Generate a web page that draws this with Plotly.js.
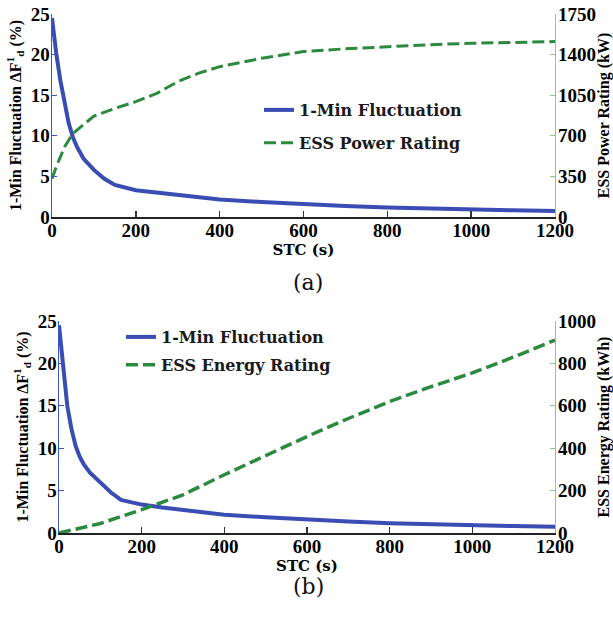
<!DOCTYPE html>
<html>
<head>
<meta charset="utf-8">
<script src="https://cdn.plot.ly/plotly-3.0.1.min.js"></script>
<style>html,body{margin:0;padding:0;background:#fff;}#chart{width:613px;height:621px;}</style>
</head>
<body>
<div id="chart"></div>
<script>
// ---- data ----
var stcA = [0,5,10,20,30,40,50,60,75,100,125,150,200,250,300,350,400,500,600,700,800,900,1000,1100,1200];
var fluctA = [24.5,22.3,20.2,16.8,13.8,11.5,9.8,8.6,7.2,5.8,4.7,3.95,3.3,3.0,2.7,2.4,2.15,1.85,1.57,1.35,1.16,1.02,0.9,0.82,0.74];
var stcPower = [0,5,10,20,30,50,75,100,150,200,250,300,350,400,500,600,700,800,900,1000,1100,1200];
var powerKW = [330,390,432,518,605,720,792,870,936,994,1066,1167,1240,1296,1368,1426,1450,1470,1485,1498,1506,1512];

var stcB = [0,5,10,20,30,40,50,60,75,100,125,150,200,250,300,350,400,500,600,700,800,900,1000,1100,1200];
var fluctB = [24.5,22.0,19.5,15.0,12.3,10.3,9.0,8.1,7.1,6.0,4.8,3.9,3.35,3.0,2.7,2.4,2.15,1.85,1.57,1.35,1.16,1.02,0.9,0.82,0.74];
var stcEnergy = [0,100,200,300,400,500,600,700,800,900,1000,1100,1200];
var energyKWh = [0,45,110,180,275,365,455,540,620,690,755,830,910];

var xTicks = [0,200,400,600,800,1000,1200];
var leftTicks = [0,5,10,15,20,25];
var powerTicks = [0,350,700,1050,1400,1750];
var energyTicks = [0,200,400,600,800,1000];

var names = {fluct:'1-Min Fluctuation', power:'ESS Power Rating', energy:'ESS Energy Rating'};
// --------------------------------------

var BLUE = '#3a4db4', GREEN = '#2b8a3e', AXBLUE = '#3d55c8', AXGREEN = '#8cc98c';
var tickFont = {family:'Liberation Serif, Times New Roman, serif', size:19, color:'#000'};
var titleFont = {family:'Liberation Serif, Times New Roman, serif', size:16, color:'#000'};
var xTitleFont = {family:'DejaVu Serif, serif', size:15, color:'#000'};
var legFont = {family:'DejaVu Serif, serif', size:16, color:'#1a1a1a'};

function b(s){ return '<b>' + s + '</b>'; }

var traces = [
  {x:stcA, y:fluctA, name:b(names.fluct), type:'scatter', mode:'lines', xaxis:'x', yaxis:'y',
   line:{color:BLUE, width:4}, legend:'legend', legendgroup:'a1'},
  {x:stcPower, y:powerKW, name:b(names.power), type:'scatter', mode:'lines', xaxis:'x', yaxis:'y2',
   line:{color:GREEN, width:3, dash:'12px,5px'}, legend:'legend', legendgroup:'a2'},
  {x:stcB, y:fluctB, name:b(names.fluct), type:'scatter', mode:'lines', xaxis:'x2', yaxis:'y3',
   line:{color:BLUE, width:4}, legend:'legend2', legendgroup:'b1'},
  {x:stcEnergy, y:energyKWh, name:b(names.energy), type:'scatter', mode:'lines', xaxis:'x2', yaxis:'y4',
   line:{color:GREEN, width:3.5, dash:'12px,5px'}, legend:'legend2', legendgroup:'b2'}
];

function xAx(dom, anchor){
  return {domain:dom, anchor:anchor, range:[0,1200], tickvals:xTicks, ticktext:xTicks.map(b),
    ticks:'inside', ticklen:6, tickcolor:'#333', tickwidth:1.5, showline:true, linecolor:'#222', linewidth:2,
    showgrid:false, zeroline:false, tickfont:tickFont, ticklabelstandoff:-5,
    title:{text:b('STC (s)'), font:xTitleFont, standoff:0}};
}
function yLeft(dom, anchor, title){
  return {domain:dom, anchor:anchor, range:[0,25], tickvals:leftTicks, ticktext:leftTicks.map(b),
    ticks:'inside', ticklen:5, tickcolor:AXBLUE, showline:true, linecolor:AXBLUE, linewidth:1.5,
    showgrid:false, zeroline:false, tickfont:tickFont, ticklabelstandoff:-3,
    title:{text:title, font:titleFont, standoff:5}};
}
function yRight(over, anchor, rng, tv, title){
  return {overlaying:over, anchor:anchor, side:'right', range:rng, tickvals:tv, ticktext:tv.map(b),
    ticks:'inside', ticklen:5, tickcolor:AXGREEN, showline:true, linecolor:AXGREEN, linewidth:1.2,
    showgrid:false, zeroline:false, tickfont:tickFont, ticklabelstandoff:-2,
    title:{text:title, font:titleFont, standoff:4}};
}

var leftTitle = b('1-Min Fluctuation \u0394F<sup>1</sup><sub>d</sub> (%)');

var layout = {
  width:613, height:621, margin:{l:0,r:0,t:0,b:0}, paper_bgcolor:'#fff', plot_bgcolor:'rgba(0,0,0,0)',
  showlegend:true,
  xaxis: xAx([52/613, 555/613], 'y'),
  yaxis: yLeft([1-217/621, 1-14/621], 'x', leftTitle),
  yaxis2: yRight('y', 'x', [0,1750], powerTicks, b('ESS Power Rating (kW)')),
  xaxis2: xAx([59/613, 555/613], 'y3'),
  yaxis3: yLeft([1-533/621, 1-321/621], 'x2', leftTitle),
  yaxis4: yRight('y3', 'x2', [0,1000], energyTicks, b('ESS Energy Rating (kWh)')),
  legend: {x:259/613, y:1-93/621, xanchor:'left', yanchor:'top', bgcolor:'rgba(0,0,0,0)',
    font:legFont, tracegroupgap:9, itemwidth:30},
  legend2: {x:121/613, y:1-320/621, xanchor:'left', yanchor:'top', bgcolor:'rgba(0,0,0,0)',
    font:legFont, tracegroupgap:4, itemwidth:30},
  annotations:[
    {text:'(a)', xref:'paper', yref:'paper', x:308/613, y:1-282/621, showarrow:false,
     font:{family:'DejaVu Serif, serif', size:22, color:'#111'}},
    {text:'(b)', xref:'paper', yref:'paper', x:308/613, y:1-601/621, showarrow:false,
     font:{family:'DejaVu Serif, serif', size:22, color:'#111'}}
  ]
};

Plotly.newPlot('chart', traces, layout, {staticPlot:true, displayModeBar:false});
</script>
</body>
</html>
